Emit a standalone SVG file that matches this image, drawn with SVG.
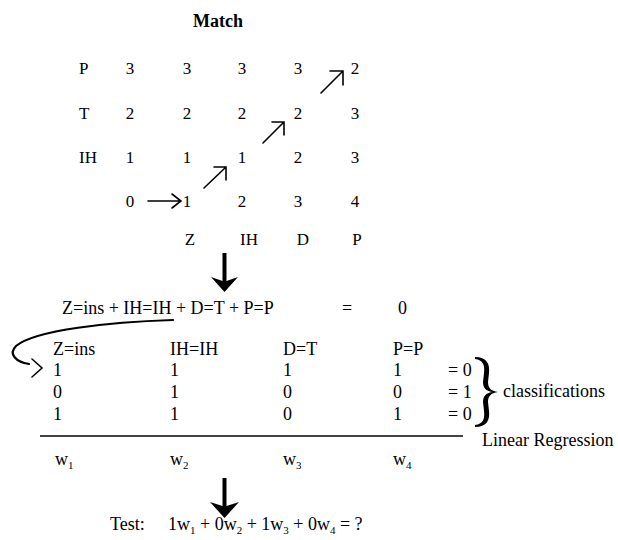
<svg xmlns="http://www.w3.org/2000/svg" width="618" height="540" viewBox="0 0 618 540">
<style>
text{font-family:"Liberation Serif","Times New Roman",serif;fill:#000}
.m{font-size:17px;text-anchor:middle}
.ml{font-size:17px}
.t{font-size:18px}
.sub{font-size:11px}
.ln{stroke:#000;stroke-width:1.6;fill:none;stroke-linecap:round}
.big{fill:#000}
</style>
<rect width="618" height="540" fill="#fff"/>
<g id="title"><text x="218" y="27" class="t" font-weight="bold" text-anchor="middle">Match</text></g>
<g id="matrix">
<text x="79" y="74" class="ml">P</text>
<text x="130" y="74" class="m">3</text><text x="187" y="74" class="m">3</text><text x="242" y="74" class="m">3</text><text x="298" y="74" class="m">3</text><text x="355" y="74" class="m">2</text>
<text x="79" y="119" class="ml">T</text>
<text x="130" y="119" class="m">2</text><text x="187" y="119" class="m">2</text><text x="242" y="119" class="m">2</text><text x="298" y="119" class="m">2</text><text x="355" y="119" class="m">3</text>
<text x="79" y="163" class="ml">IH</text>
<text x="130" y="163" class="m">1</text><text x="187" y="163" class="m">1</text><text x="242" y="163" class="m">1</text><text x="298" y="163" class="m">2</text><text x="355" y="163" class="m">3</text>
<text x="130" y="207" class="m">0</text><text x="187" y="207" class="m">1</text><text x="242" y="207" class="m">2</text><text x="298" y="207" class="m">3</text><text x="355" y="207" class="m">4</text>
<text x="190" y="245" class="m">Z</text><text x="249" y="245" class="m">IH</text><text x="303" y="245" class="m">D</text><text x="357" y="245" class="m">P</text>
</g>
<g id="connectors">
<path class="ln" d="M148,201 H181 M172,194 L181,201 L172,208"/>
<path class="ln" d="M204,188 L226,167 M214,167 H226 V180"/>
<path class="ln" d="M263,143 L284,122 M272,122 H284 V135"/>
<path class="ln" d="M321,93 L343,71 M330,71 H343 V85"/>
<path class="big" d="M222.5,253 H226.5 V281 L238,277 L224.5,292 L211,277 L222.5,281 Z"/>
<path d="M173,320 C110,322 35,330 16,346 C8,354 16,362 29,364" fill="none" stroke="#000" stroke-width="2.2" stroke-linecap="round"/>
<path class="ln" d="M32,359 L42,368 L32,377"/>
<path class="big" d="M222.5,478 H226.5 V506 L239,502 L224.5,518 L210,502 L222.5,506 Z"/>
</g>
<g id="equation">
<text x="62" y="314" class="t">Z=ins + IH=IH + D=T + P=P</text>
<text x="342" y="314" class="t">=</text>
<text x="398" y="314" class="t">0</text>
</g>
<g id="table">
<text x="53" y="355" class="t">Z=ins</text><text x="170" y="355" class="t">IH=IH</text><text x="283" y="355" class="t">D=T</text><text x="393" y="355" class="t">P=P</text>
<text x="53" y="376" class="t">1</text><text x="170" y="376" class="t">1</text><text x="283" y="376" class="t">1</text><text x="393" y="376" class="t">1</text><text x="448" y="376" class="t">= 0</text>
<text x="53" y="398" class="t">0</text><text x="170" y="398" class="t">1</text><text x="283" y="398" class="t">0</text><text x="393" y="398" class="t">0</text><text x="448" y="398" class="t">= 1</text>
<text x="53" y="420" class="t">1</text><text x="170" y="420" class="t">1</text><text x="283" y="420" class="t">0</text><text x="393" y="420" class="t">1</text><text x="448" y="420" class="t">= 0</text>
</g>
<g id="classifications">
<path d="M475,357 C487,357 490,364 489,373 L488,382 C488,388 491,391 498,392 C491,393 488,396 488,402 L489,411 C490,420 487,427 475,427 L475,425 C483,424 485,419 484,411 L483,402 C483,396 486,393 492,392 C486,391 483,388 483,382 L484,373 C485,365 483,360 475,359 Z" fill="#000"/>
<text x="503" y="397" class="t">classifications</text>
</g>
<g id="regression">
<line x1="40" y1="436" x2="463" y2="436" stroke="#444" stroke-width="2.2"/>
<text x="482" y="446" class="t">Linear Regression</text>
</g>
<g id="weights">
<text x="55" y="465" class="t">w<tspan class="sub" dy="4">1</tspan></text>
<text x="170" y="465" class="t">w<tspan class="sub" dy="4">2</tspan></text>
<text x="283" y="465" class="t">w<tspan class="sub" dy="4">3</tspan></text>
<text x="393" y="465" class="t">w<tspan class="sub" dy="4">4</tspan></text>
</g>
<g id="test">
<text x="110" y="530" class="t">Test:</text>
<text x="168" y="530" class="t">1w<tspan class="sub" dy="4">1</tspan><tspan dy="-4"> + 0w</tspan><tspan class="sub" dy="4">2</tspan><tspan dy="-4"> + 1w</tspan><tspan class="sub" dy="4">3</tspan><tspan dy="-4"> + 0w</tspan><tspan class="sub" dy="4">4</tspan><tspan dy="-4"> = ?</tspan></text>
</g>
</svg>
